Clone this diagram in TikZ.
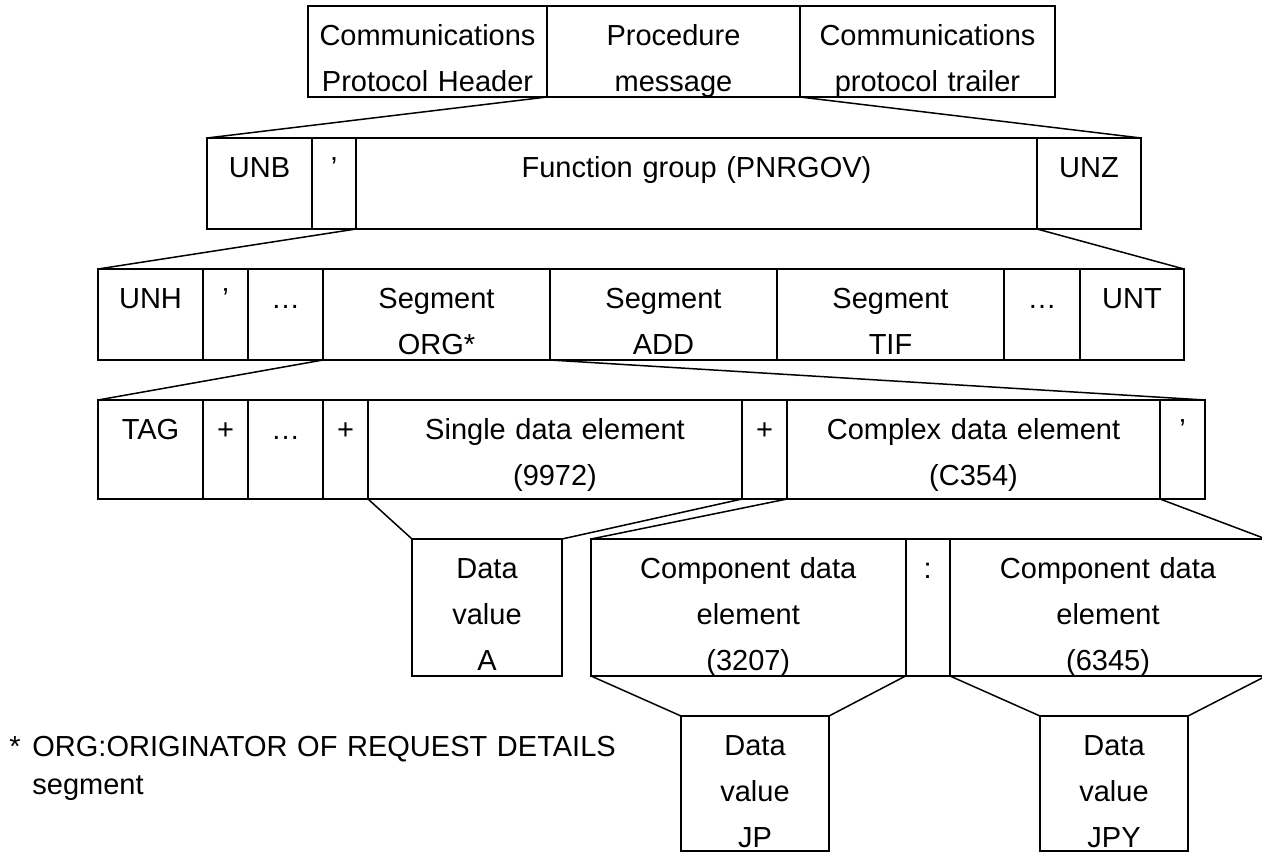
\documentclass[tikz,border=0pt]{standalone}
\usepackage{fontspec}
\setmainfont{Liberation Sans}
\usetikzlibrary{positioning}
\newcommand\rowh{45.5pt}
\tikzset{cell/.style={draw, line width=1pt, inner sep=0pt, outer sep=0pt, minimum height=\rowh, label={[celltext]north:#1}},
	celltext/.style={anchor=base, yshift=-19.75pt, text width=200pt, align=center, inner sep=0pt, font=\fontsize{14.5}{23}\selectfont},
	link/.style={line width=0.75pt},
	note/.style={anchor=base west, inner sep=0pt, font=\fontsize{14.5}{19}\selectfont}}

\begin{document}
\begin{tikzpicture}[x=0.5pt, y=-0.5pt]
	\useasboundingbox (0,0) rectangle (1262,852);
	\node[cell={Communications\\Protocol Header}, minimum width=119.5pt, anchor=north west] (header) at (308,6) {};
	\node[cell={Procedure\\message}, minimum width=126.5pt, right=0pt of header] (proc) {};
	\node[cell={Communications\\protocol trailer}, minimum width=127.5pt, right=0pt of proc] (trailer) {};

	\node[cell=UNB, minimum width=52.5pt, anchor=north west] (unb) at (207,138) {};
	\node[cell=’, minimum width=22pt, right=0pt of unb] (apoB) {};
	\node[cell={Function group (PNRGOV)}, minimum width=340.5pt, right=0pt of apoB] (group) {};
	\node[cell=UNZ, minimum width=52pt, right=0pt of group] (unz) {};

	\node[cell=UNH, minimum width=52.5pt, anchor=north west] (unh) at (98,269) {};
	\node[cell=’, minimum width=22.5pt, right=0pt of unh] (apoH) {};
	\node[cell=…, minimum width=37.5pt, right=0pt of apoH] (dotsH) {};
	\node[cell={Segment\\ORG*}, minimum width=113.5pt, right=0pt of dotsH] (org) {};
	\node[cell={Segment\\ADD}, minimum width=113.5pt, right=0pt of org] (add) {};
	\node[cell={Segment\\TIF}, minimum width=113.5pt, right=0pt of add] (tif) {};
	\node[cell=…, minimum width=38pt, right=0pt of tif] (dotsT) {};
	\node[cell=UNT, minimum width=52pt, right=0pt of dotsT] (unt) {};

	\begin{scope}
		\renewcommand\rowh{49.5pt}
		\node[cell=TAG, minimum width=52.5pt, anchor=north west] (tag) at (98,400) {};
		\node[cell=+, minimum width=22.5pt, right=0pt of tag] (plusA) {};
		\node[cell=…, minimum width=37.5pt, right=0pt of plusA] (dotsE) {};
		\node[cell=+, minimum width=22.5pt, right=0pt of dotsE] (plusB) {};
		\node[cell={Single data element\\(9972)}, minimum width=187pt, right=0pt of plusB] (single) {};
		\node[cell=+, minimum width=22.5pt, right=0pt of single] (plusC) {};
		\node[cell={Complex data element\\(C354)}, minimum width=186.5pt, right=0pt of plusC] (complex) {};
		\node[cell=’, minimum width=22.5pt, right=0pt of complex] (apoE) {};
	\end{scope}

	\begin{scope}
		\renewcommand\rowh{68.5pt}
		\node[cell={Data\\value\\A}, minimum width=75pt, anchor=north west] (valA) at (412,539) {};
		\node[cell={Component data\\element\\(3207)}, minimum width=157.25pt, anchor=north west] (compA) at (591,539) {};
		\node[cell=:, minimum width=22.25pt, right=0pt of compA] (colon) {};
		\node[cell={Component data\\element\\(6345)}, minimum width=158pt, right=0pt of colon] (compB) {};
	\end{scope}

	\begin{scope}
		\renewcommand\rowh{67.5pt}
		\node[cell={Data\\value\\JP}, minimum width=74pt, anchor=north west] (valJP) at (681,716) {};
		\node[cell={Data\\value\\JPY}, minimum width=74pt, anchor=north west] (valJPY) at (1040,716) {};
	\end{scope}

	\draw[link] (proc.south west) -- (unb.north west);
	\draw[link] (proc.south east) -- (unz.north east);
	\draw[link] (group.south west) -- (unh.north west);
	\draw[link] (group.south east) -- (unt.north east);
	\draw[link] (org.south west) -- (tag.north west);
	\draw[link] (org.south east) -- (apoE.north east);
	\draw[link] (single.south west) -- (valA.north west);
	\draw[link] (single.south east) -- (valA.north east);
	\draw[link] (complex.south west) -- (compA.north west);
	\draw[link] (complex.south east) -- (compB.north east);
	\draw[link] (compA.south west) -- (valJP.north west);
	\draw[link] (compA.south east) -- (valJP.north east);
	\draw[link] (compB.south west) -- (valJPY.north west);
	\draw[link] (compB.south east) -- (valJPY.north east);

	\node[note] (star) at (9,756) {*};
	\node[note, text width=330pt, align=left] (orgnote) at (32,756) {ORG:ORIGINATOR OF REQUEST DETAILS\\segment};
\end{tikzpicture}
\end{document}
